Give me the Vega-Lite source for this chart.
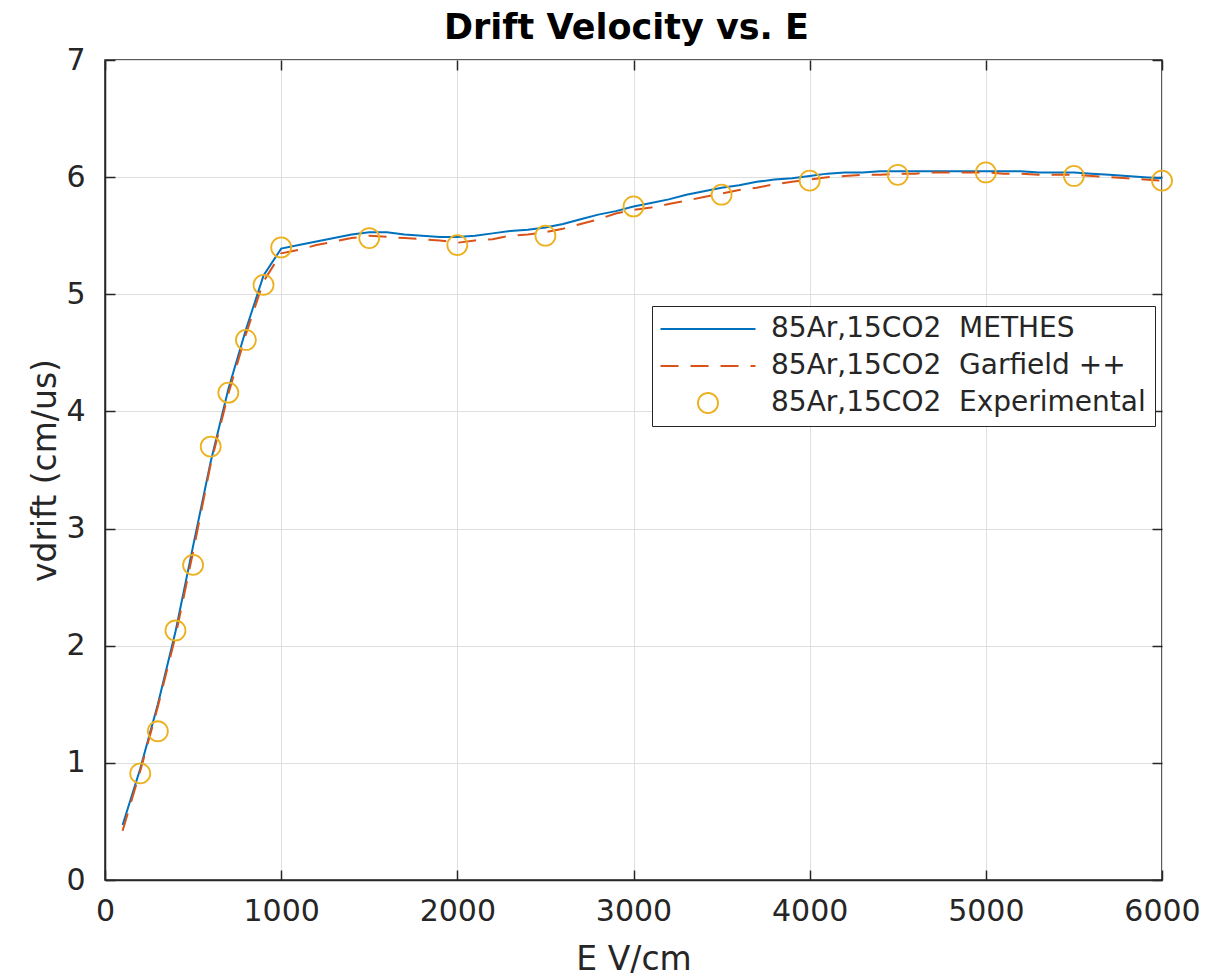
{
  "$schema": "https://vega.github.io/schema/vega-lite/v6.json",
  "width": 1057,
  "height": 820,
  "autosize": {"type": "none"},
  "padding": {"left": 105, "top": 60, "right": 50, "bottom": 99},
  "background": "white",
  "title": {
    "text": "Drift Velocity vs. E",
    "font": "DejaVu Sans",
    "fontSize": 35,
    "fontWeight": "bold",
    "color": "#000000",
    "anchor": "middle",
    "baseline": "alphabetic",
    "offset": 17,
    "dy": 46,
    "dx": -7
  },
  "config": {
    "font": "DejaVu Sans",
    "view": {"stroke": "#262626", "strokeWidth": 1.5},
    "axis": {
      "labelFont": "DejaVu Sans",
      "titleFont": "DejaVu Sans",
      "labelFontSize": 30,
      "titleFontSize": 33,
      "titleFontWeight": "normal",
      "labelColor": "#262626",
      "titleColor": "#262626",
      "domainColor": "#262626",
      "domainWidth": 1.5,
      "tickColor": "#262626",
      "tickWidth": 1.5,
      "gridColor": "#DFDFDF",
      "gridWidth": 1,
      "labelFlush": false,
      "labelOverlap": false
    }
  },
  "datasets": {
    "sim": [
      {"E": 100, "v": 0.47, "series": "METHES"},
      {"E": 200, "v": 0.95, "series": "METHES"},
      {"E": 300, "v": 1.50, "series": "METHES"},
      {"E": 400, "v": 2.12, "series": "METHES"},
      {"E": 500, "v": 2.85, "series": "METHES"},
      {"E": 600, "v": 3.57, "series": "METHES"},
      {"E": 700, "v": 4.19, "series": "METHES"},
      {"E": 800, "v": 4.70, "series": "METHES"},
      {"E": 900, "v": 5.16, "series": "METHES"},
      {"E": 1000, "v": 5.39, "series": "METHES"},
      {"E": 1100, "v": 5.42, "series": "METHES"},
      {"E": 1200, "v": 5.45, "series": "METHES"},
      {"E": 1300, "v": 5.48, "series": "METHES"},
      {"E": 1400, "v": 5.51, "series": "METHES"},
      {"E": 1500, "v": 5.53, "series": "METHES"},
      {"E": 1600, "v": 5.53, "series": "METHES"},
      {"E": 1700, "v": 5.51, "series": "METHES"},
      {"E": 1800, "v": 5.50, "series": "METHES"},
      {"E": 1900, "v": 5.49, "series": "METHES"},
      {"E": 2000, "v": 5.49, "series": "METHES"},
      {"E": 2100, "v": 5.50, "series": "METHES"},
      {"E": 2200, "v": 5.52, "series": "METHES"},
      {"E": 2300, "v": 5.54, "series": "METHES"},
      {"E": 2400, "v": 5.55, "series": "METHES"},
      {"E": 2500, "v": 5.57, "series": "METHES"},
      {"E": 2600, "v": 5.60, "series": "METHES"},
      {"E": 2700, "v": 5.64, "series": "METHES"},
      {"E": 2800, "v": 5.68, "series": "METHES"},
      {"E": 2900, "v": 5.71, "series": "METHES"},
      {"E": 3000, "v": 5.75, "series": "METHES"},
      {"E": 3100, "v": 5.78, "series": "METHES"},
      {"E": 3200, "v": 5.81, "series": "METHES"},
      {"E": 3300, "v": 5.85, "series": "METHES"},
      {"E": 3400, "v": 5.88, "series": "METHES"},
      {"E": 3500, "v": 5.91, "series": "METHES"},
      {"E": 3600, "v": 5.93, "series": "METHES"},
      {"E": 3700, "v": 5.96, "series": "METHES"},
      {"E": 3800, "v": 5.98, "series": "METHES"},
      {"E": 3900, "v": 5.99, "series": "METHES"},
      {"E": 4000, "v": 6.01, "series": "METHES"},
      {"E": 4100, "v": 6.03, "series": "METHES"},
      {"E": 4200, "v": 6.04, "series": "METHES"},
      {"E": 4300, "v": 6.04, "series": "METHES"},
      {"E": 4400, "v": 6.05, "series": "METHES"},
      {"E": 4500, "v": 6.05, "series": "METHES"},
      {"E": 4600, "v": 6.05, "series": "METHES"},
      {"E": 4700, "v": 6.05, "series": "METHES"},
      {"E": 4800, "v": 6.05, "series": "METHES"},
      {"E": 4900, "v": 6.05, "series": "METHES"},
      {"E": 5000, "v": 6.05, "series": "METHES"},
      {"E": 5100, "v": 6.05, "series": "METHES"},
      {"E": 5200, "v": 6.05, "series": "METHES"},
      {"E": 5300, "v": 6.04, "series": "METHES"},
      {"E": 5400, "v": 6.04, "series": "METHES"},
      {"E": 5500, "v": 6.04, "series": "METHES"},
      {"E": 5600, "v": 6.03, "series": "METHES"},
      {"E": 5700, "v": 6.02, "series": "METHES"},
      {"E": 5800, "v": 6.01, "series": "METHES"},
      {"E": 5900, "v": 6.00, "series": "METHES"},
      {"E": 6000, "v": 5.99, "series": "METHES"},
      {"E": 100, "v": 0.42, "series": "Garfield ++"},
      {"E": 200, "v": 0.93, "series": "Garfield ++"},
      {"E": 300, "v": 1.48, "series": "Garfield ++"},
      {"E": 400, "v": 2.08, "series": "Garfield ++"},
      {"E": 500, "v": 2.80, "series": "Garfield ++"},
      {"E": 600, "v": 3.55, "series": "Garfield ++"},
      {"E": 700, "v": 4.15, "series": "Garfield ++"},
      {"E": 800, "v": 4.66, "series": "Garfield ++"},
      {"E": 900, "v": 5.11, "series": "Garfield ++"},
      {"E": 1000, "v": 5.35, "series": "Garfield ++"},
      {"E": 1100, "v": 5.38, "series": "Garfield ++"},
      {"E": 1200, "v": 5.42, "series": "Garfield ++"},
      {"E": 1300, "v": 5.45, "series": "Garfield ++"},
      {"E": 1400, "v": 5.48, "series": "Garfield ++"},
      {"E": 1500, "v": 5.50, "series": "Garfield ++"},
      {"E": 1600, "v": 5.49, "series": "Garfield ++"},
      {"E": 1700, "v": 5.48, "series": "Garfield ++"},
      {"E": 1800, "v": 5.47, "series": "Garfield ++"},
      {"E": 1900, "v": 5.46, "series": "Garfield ++"},
      {"E": 2000, "v": 5.44, "series": "Garfield ++"},
      {"E": 2100, "v": 5.46, "series": "Garfield ++"},
      {"E": 2200, "v": 5.47, "series": "Garfield ++"},
      {"E": 2300, "v": 5.50, "series": "Garfield ++"},
      {"E": 2400, "v": 5.51, "series": "Garfield ++"},
      {"E": 2500, "v": 5.53, "series": "Garfield ++"},
      {"E": 2600, "v": 5.56, "series": "Garfield ++"},
      {"E": 2700, "v": 5.60, "series": "Garfield ++"},
      {"E": 2800, "v": 5.64, "series": "Garfield ++"},
      {"E": 2900, "v": 5.69, "series": "Garfield ++"},
      {"E": 3000, "v": 5.72, "series": "Garfield ++"},
      {"E": 3100, "v": 5.74, "series": "Garfield ++"},
      {"E": 3200, "v": 5.77, "series": "Garfield ++"},
      {"E": 3300, "v": 5.80, "series": "Garfield ++"},
      {"E": 3400, "v": 5.83, "series": "Garfield ++"},
      {"E": 3500, "v": 5.86, "series": "Garfield ++"},
      {"E": 3600, "v": 5.89, "series": "Garfield ++"},
      {"E": 3700, "v": 5.91, "series": "Garfield ++"},
      {"E": 3800, "v": 5.94, "series": "Garfield ++"},
      {"E": 3900, "v": 5.96, "series": "Garfield ++"},
      {"E": 4000, "v": 5.98, "series": "Garfield ++"},
      {"E": 4100, "v": 6.00, "series": "Garfield ++"},
      {"E": 4200, "v": 6.01, "series": "Garfield ++"},
      {"E": 4300, "v": 6.02, "series": "Garfield ++"},
      {"E": 4400, "v": 6.02, "series": "Garfield ++"},
      {"E": 4500, "v": 6.03, "series": "Garfield ++"},
      {"E": 4600, "v": 6.03, "series": "Garfield ++"},
      {"E": 4700, "v": 6.04, "series": "Garfield ++"},
      {"E": 4800, "v": 6.04, "series": "Garfield ++"},
      {"E": 4900, "v": 6.04, "series": "Garfield ++"},
      {"E": 5000, "v": 6.04, "series": "Garfield ++"},
      {"E": 5100, "v": 6.03, "series": "Garfield ++"},
      {"E": 5200, "v": 6.03, "series": "Garfield ++"},
      {"E": 5300, "v": 6.02, "series": "Garfield ++"},
      {"E": 5400, "v": 6.02, "series": "Garfield ++"},
      {"E": 5500, "v": 6.02, "series": "Garfield ++"},
      {"E": 5600, "v": 6.01, "series": "Garfield ++"},
      {"E": 5700, "v": 6.00, "series": "Garfield ++"},
      {"E": 5800, "v": 5.99, "series": "Garfield ++"},
      {"E": 5900, "v": 5.98, "series": "Garfield ++"},
      {"E": 6000, "v": 5.97, "series": "Garfield ++"}
    ],
    "exp": [
      {"E": 200, "v": 0.91, "series": "Experimental"},
      {"E": 300, "v": 1.27, "series": "Experimental"},
      {"E": 400, "v": 2.13, "series": "Experimental"},
      {"E": 500, "v": 2.69, "series": "Experimental"},
      {"E": 600, "v": 3.70, "series": "Experimental"},
      {"E": 700, "v": 4.16, "series": "Experimental"},
      {"E": 800, "v": 4.61, "series": "Experimental"},
      {"E": 900, "v": 5.08, "series": "Experimental"},
      {"E": 1000, "v": 5.40, "series": "Experimental"},
      {"E": 1500, "v": 5.48, "series": "Experimental"},
      {"E": 2000, "v": 5.42, "series": "Experimental"},
      {"E": 2500, "v": 5.50, "series": "Experimental"},
      {"E": 3000, "v": 5.75, "series": "Experimental"},
      {"E": 3500, "v": 5.85, "series": "Experimental"},
      {"E": 4000, "v": 5.97, "series": "Experimental"},
      {"E": 4500, "v": 6.02, "series": "Experimental"},
      {"E": 5000, "v": 6.04, "series": "Experimental"},
      {"E": 5500, "v": 6.01, "series": "Experimental"},
      {"E": 6000, "v": 5.97, "series": "Experimental"}
    ]
  },
  "layer": [
    {
      "data": {"name": "sim"},
      "transform": [{"filter": "datum.series === 'METHES'"}],
      "mark": {"type": "line", "strokeWidth": 2},
      "encoding": {
        "x": {
          "field": "E", "type": "quantitative",
          "scale": {"domain": [0, 6000], "nice": false, "zero": false},
          "axis": {
            "orient": "bottom", "title": "E V/cm", "format": "d",
            "values": [0, 1000, 2000, 3000, 4000, 5000, 6000],
            "tickSize": -10, "labelPadding": 26, "titlePadding": 17, "grid": true
          }
        },
        "y": {
          "field": "v", "type": "quantitative",
          "scale": {"domain": [0, 7], "nice": false},
          "axis": {
            "orient": "left", "title": "vdrift (cm/us)",
            "values": [0, 1, 2, 3, 4, 5, 6, 7],
            "tickSize": -10, "labelPadding": 30, "titlePadding": 3, "grid": true
          }
        },
        "color": {
          "field": "series", "type": "nominal",
          "scale": {"domain": ["METHES", "Garfield ++", "Experimental"], "range": ["#0072BD", "#D95319", "#EDB120"]},
          "legend": {
            "orient": "none",
            "legendX": 547,
            "legendY": 246,
            "title": null,
            "labelFont": "DejaVu Sans",
            "labelFontSize": 28,
            "labelColor": "#262626",
            "labelLimit": 0,
            "labelExpr": "'85Ar,15CO2\u00a0\u00a0' + datum.label + '\u00a0'",
            "labelOffset": 49,
            "symbolType": "M-4.75,0H4.75",
            "symbolSize": 400,
            "symbolOffset": 33,
            "symbolStrokeWidth": 2,
            "strokeColor": "#262626",
            "fillColor": "white",
            "padding": 9,
            "rowPadding": 9,
            "encode": {
              "symbols": {
                "update": {
                  "shape": {"signal": "datum.value === 'Experimental' ? 'circle' : 'M-4.75,0H4.75'"},
                  "strokeDash": {"signal": "datum.value === 'Garfield ++' ? [18, 12] : [1, 0]"},
                  "fill": {"value": "transparent"}
                }
              }
            }
          }
        }
      }
    },
    {
      "data": {"name": "sim"},
      "transform": [{"filter": "datum.series === 'Garfield ++'"}],
      "mark": {"type": "line", "strokeWidth": 2, "strokeDash": [18, 12]},
      "encoding": {
        "x": {"field": "E", "type": "quantitative", "axis": null},
        "y": {"field": "v", "type": "quantitative", "axis": null},
        "color": {"field": "series", "type": "nominal"}
      }
    },
    {
      "data": {"name": "exp"},
      "mark": {"type": "point", "shape": "circle", "filled": false, "size": 400, "strokeWidth": 1.8, "opacity": 1, "clip": false},
      "encoding": {
        "x": {"field": "E", "type": "quantitative", "axis": null},
        "y": {"field": "v", "type": "quantitative", "axis": null},
        "color": {"field": "series", "type": "nominal"}
      }
    },
    {
      "data": {"name": "exp"},
      "mark": {"type": "point", "opacity": 0},
      "encoding": {
        "x": {"field": "E", "type": "quantitative",
          "axis": {"orient": "top", "title": null, "labels": false, "grid": false, "domain": false,
            "values": [0, 1000, 2000, 3000, 4000, 5000, 6000], "tickSize": -10}},
        "y": {"field": "v", "type": "quantitative",
          "axis": {"orient": "right", "title": null, "labels": false, "grid": false, "domain": false,
            "values": [0, 1, 2, 3, 4, 5, 6, 7], "tickSize": -10}}
      }
    }
  ],
  "resolve": {"axis": {"x": "independent", "y": "independent"}}
}
